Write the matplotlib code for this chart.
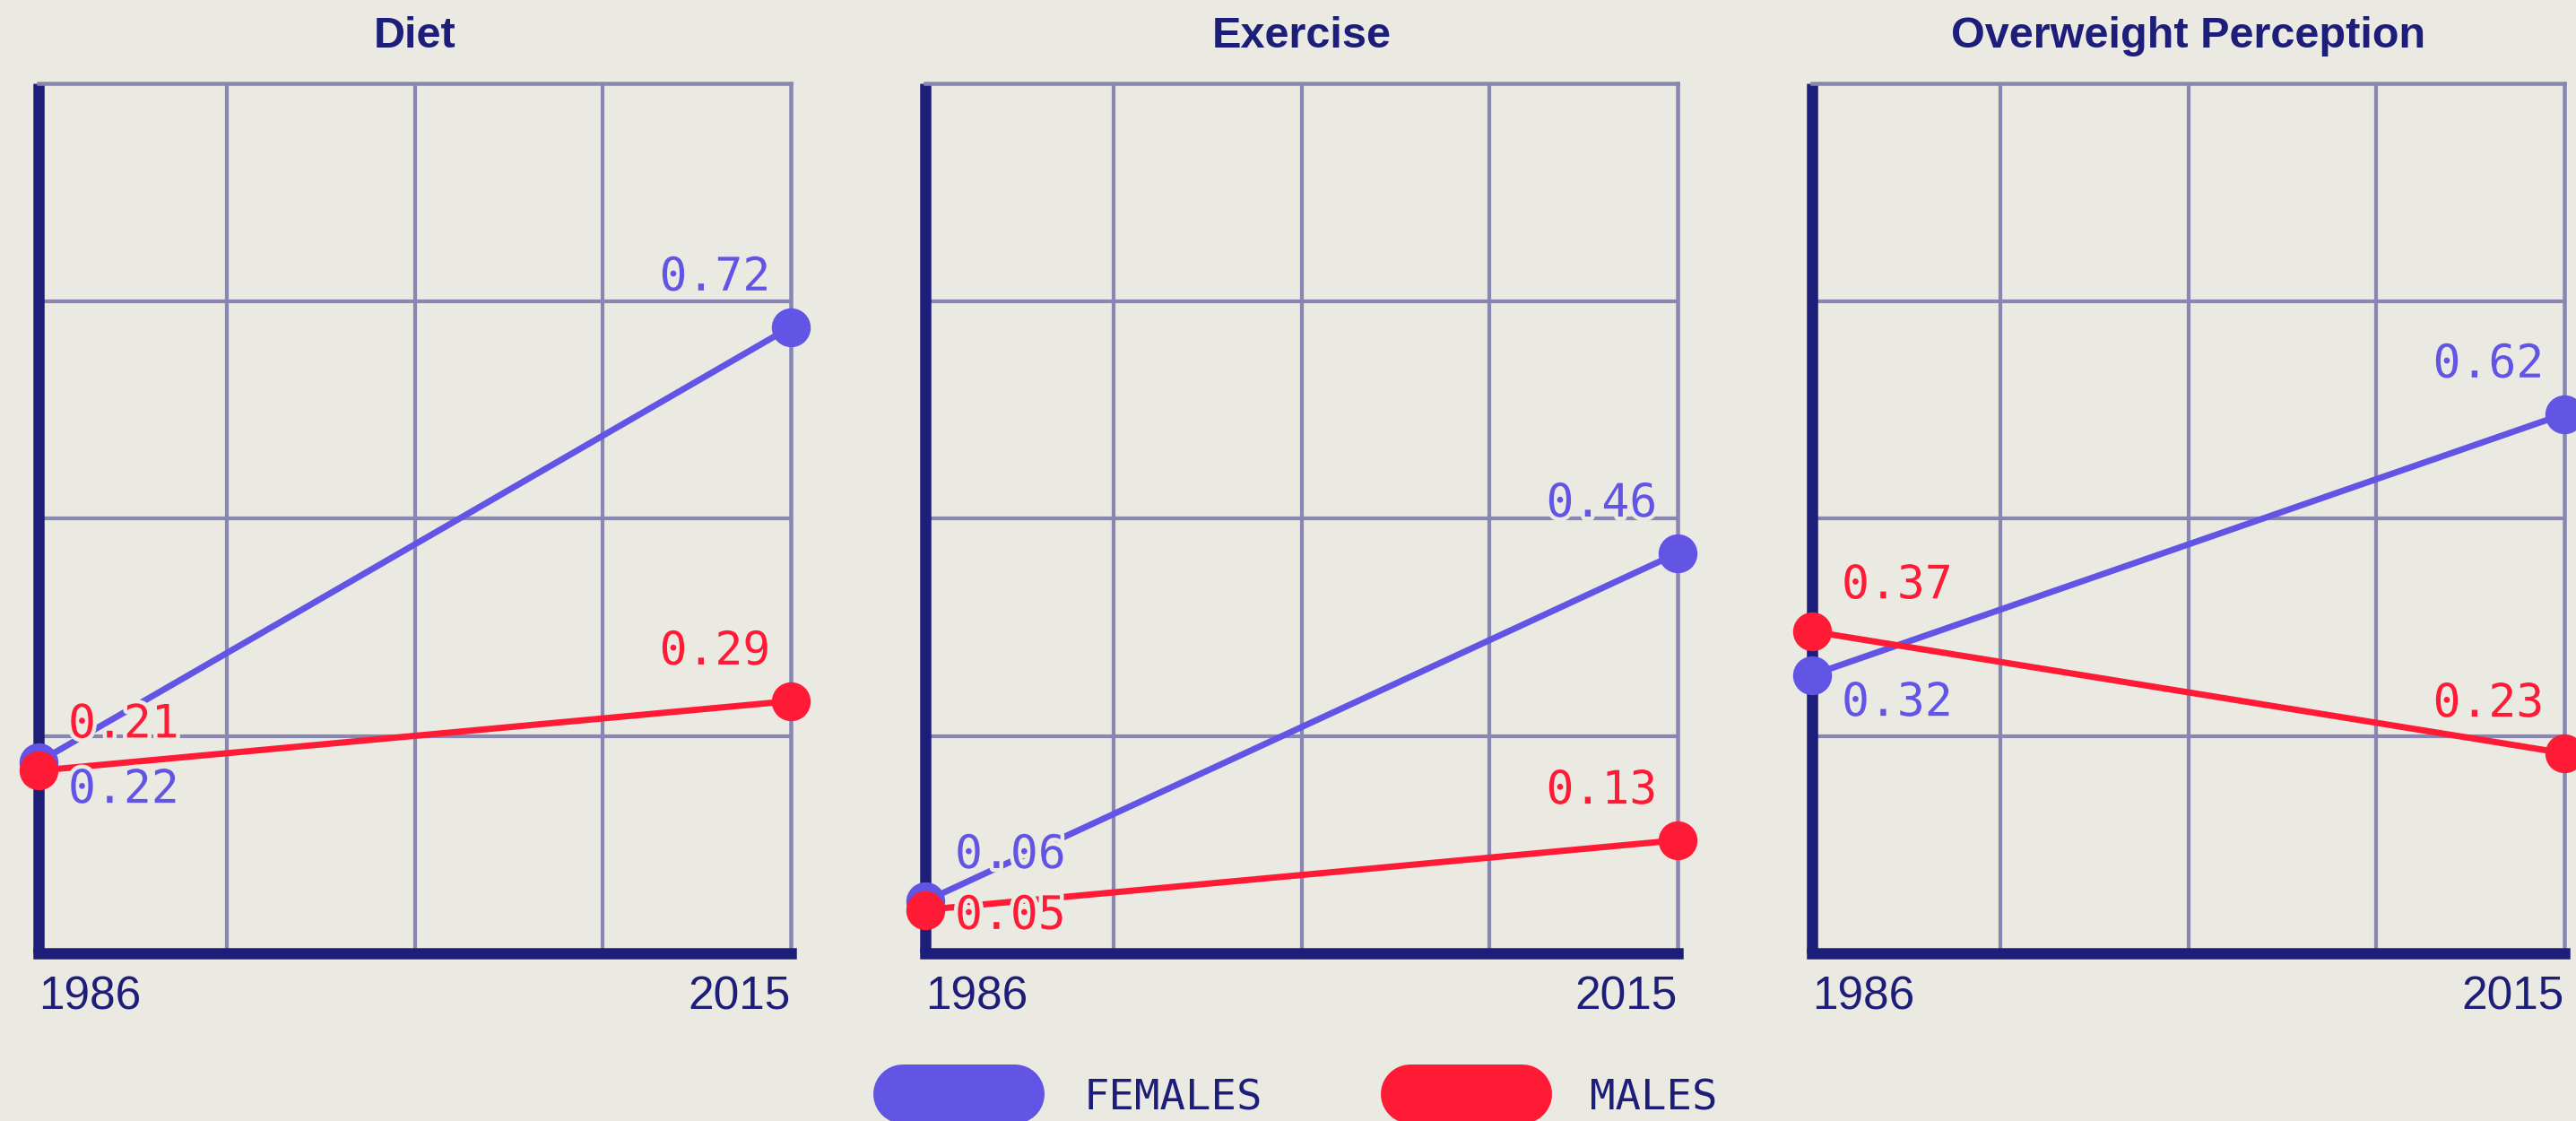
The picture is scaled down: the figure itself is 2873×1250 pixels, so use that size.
import matplotlib
matplotlib.use("Agg")
import matplotlib.pyplot as plt
import matplotlib.patheffects as pe
from matplotlib.lines import Line2D
import numpy as np

# ---------------- data ----------------
panels = ["Diet", "Exercise", "Overweight Perception"]
years = [1986, 2015]
series = ["Females", "Males"]
female_1986 = [0.22, 0.06, 0.32]
female_2015 = [0.72, 0.46, 0.62]
male_1986 = [0.21, 0.05, 0.37]
male_2015 = [0.29, 0.13, 0.23]
# which series' 1986 label sits above its dot
upper_label_1986 = ["Males", "Females", "Males"]

# ---------------- style ----------------
BG = "#EBEAE2"
NAVY = "#1D1D7A"
GRID = "#8787B1"
BLUE = "#6254E5"
RED = "#FF1B35"
W, H = 2873, 1250
PX = 0.72  # points per pixel at dpi=100

plt.rcParams["font.family"] = ["Liberation Sans", "DejaVu Sans"]
MONO = ["DejaVu Sans Mono"]
halo = [pe.withStroke(linewidth=9 * PX, foreground=BG)]

fig = plt.figure(figsize=(W / 100, H / 100), dpi=100, facecolor=BG)

lefts = [43, 1032, 2021]
width = 839
bottom_px, top_px = 1063, 93

for i, name in enumerate(panels):
    ax = fig.add_axes([lefts[i] / W, 1 - bottom_px / H, width / W, (bottom_px - top_px) / H])
    ax.set_facecolor(BG)
    ax.set_xlim(years[0], years[-1])
    ax.set_ylim(0, 1)
    ax.set_axisbelow(True)

    ax.set_xticks(years)
    ax.set_xticklabels([str(y) for y in years])
    ax.set_xticks(np.linspace(years[0], years[-1], 5)[1:-1], minor=True)
    ax.set_yticks([0.25, 0.5, 0.75])
    ax.set_yticklabels([])
    ax.grid(True, which="minor", axis="x", color=GRID, lw=4.2 * PX)
    ax.grid(True, which="major", axis="y", color=GRID, lw=4.2 * PX)
    ax.grid(False, which="major", axis="x")
    ax.tick_params(which="both", length=0)
    ax.tick_params(axis="x", which="major", pad=25 * PX, labelsize=37, labelcolor=NAVY)
    tl = ax.get_xticklabels()
    tl[0].set_ha("left")
    tl[-1].set_ha("right")

    for s in ["top", "right"]:
        ax.spines[s].set_color(GRID)
        ax.spines[s].set_linewidth(4.5 * PX)
    for s in ["left", "bottom"]:
        ax.spines[s].set_color(NAVY)
        ax.spines[s].set_linewidth(12.5 * PX)
    ax.spines["left"].set_capstyle("butt")
    ax.spines["bottom"].set_capstyle("projecting")

    ax.set_title(name, fontsize=35, fontweight="bold", color=NAVY, pad=29)

    vals = {
        "Females": [female_1986[i], female_2015[i]],
        "Males": [male_1986[i], male_2015[i]],
    }
    colors = {"Females": BLUE, "Males": RED}
    for k, s in enumerate(series):
        v = vals[s]
        ax.plot(years, v, color=colors[s], lw=7 * PX, marker="o", ms=42 * PX,
                clip_on=False, zorder=4 + k, solid_capstyle="round")

        # 2015 label: above-left of dot
        ax.annotate(f"{v[1]:.2f}", xy=(years[1], v[1] + 0.042), xytext=(-23 * PX, 0),
                    textcoords="offset points", ha="right", va="baseline",
                    fontsize=37, family=MONO, color=colors[s], zorder=10,
                    path_effects=halo, annotation_clip=False)
        # 1986 label: right of dot, above or below
        if upper_label_1986[i] == s:
            yb = v[0] + 0.038
        else:
            yb = max(v[0] - 0.047, 0.028)
        ax.annotate(f"{v[0]:.2f}", xy=(years[0], yb), xytext=(33 * PX, 0),
                    textcoords="offset points", ha="left", va="baseline",
                    fontsize=37, family=MONO, color=colors[s], zorder=10,
                    path_effects=halo, annotation_clip=False)

# ---------------- legend ----------------
leg_colors = [BLUE, RED]
pill_starts = [1007, 1573]
pill_len = 125
text_starts = [1209, 1773]
yc = 1 - 1220 / H
for name, c, x0, xt in zip(series, leg_colors, pill_starts, text_starts):
    fig.add_artist(Line2D([x0 / W, (x0 + pill_len) / W], [yc, yc], transform=fig.transFigure,
                          color=c, lw=66 * PX, solid_capstyle="round"))
    fig.text(xt / W, 1 - 1237 / H, name.upper(), family=MONO, fontsize=34,
             color=NAVY, ha="left", va="baseline")

fig.savefig("out.png", dpi=100, facecolor=BG)
